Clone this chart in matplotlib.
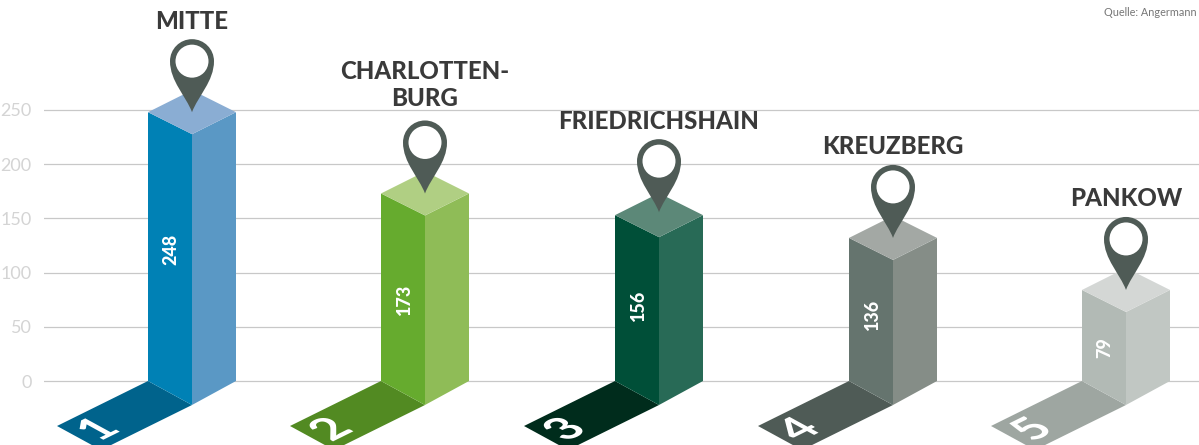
import matplotlib
matplotlib.use("Agg")
import matplotlib.pyplot as plt
from matplotlib.patches import Ellipse, PathPatch, Polygon
from matplotlib.path import Path
from matplotlib.patheffects import AbstractPathEffect
from matplotlib.transforms import Affine2D

districts = ["MITTE", "CHARLOTTEN-\nBURG", "FRIEDRICHSHAIN", "KREUZBERG", "PANKOW"]
values = [248, 173, 156, 136, 79]
# heights as actually drawn in the picture, they differ a little from the printed numbers
drawn_heights = [248, 173, 153, 132, 84]
ranks = ["1", "2", "3", "4", "5"]
y_ticks = [0, 50, 100, 150, 200, 250]

front_colors = ["#0081b5", "#66ab2e", "#004f38", "#65746e", "#b2bab5"]
side_colors = ["#5a98c5", "#8fbc57", "#286a56", "#858d87", "#c1c7c3"]
top_colors = ["#8aadd3", "#b0cf83", "#5c8878", "#a3a8a4", "#d4d7d5"]
shadow_colors = ["#00638c", "#528a22", "#002c1c", "#4f5b56", "#9ea6a1"]
PIN_COLOR = "#4f5b56"

W, H = 1199, 445
ZERO_Y = 381  # pixel row of value 0
PX = 271 / 250  # pixels per value unit
AX_LEFT = 44
BAR_LEFT = [148, 381, 615, 849, 1082]
BAR_W = 44
BASE_DEPTH = 24
TOP_DEPTH = 22
label_y = [249, 299, 305, 314, 348]  # pixel rows of the value labels
pin_lift = [0, 0, 3, 0, 0]  # pixels
title_lift = [-1, 3, 2, 0, 0]  # pixels


class Shear(AbstractPathEffect):
    """Draw the glyphs of a text along the isometric axes of the shadow."""

    def __init__(self, anchor, drop):
        super().__init__()
        self.anchor = anchor
        self.drop = drop

    def draw_path(self, renderer, gc, tpath, affine, rgbFace=None):
        ax_, ay = self.anchor
        m = Affine2D.from_values(0.896, 0.443, -0.878, 0.479, 0, 0)
        skew = Affine2D().translate(-ax_, -ay) + m + Affine2D().translate(ax_, ay - self.drop)
        renderer.draw_path(gc, tpath, affine + skew, rgbFace)


def to_val(px_row):
    return (ZERO_Y - px_row) / PX


def draw_pin(ax, x, tip):
    k = 0.5523 * 22
    cy = 51
    verts = [
        (0, 0),
        (-6, 16), (-22, 31), (-22, cy),
        (-22, cy + k), (-k, cy + 22), (0, cy + 22),
        (k, cy + 22), (22, cy + k), (22, cy),
        (22, 31), (6, 16), (0, 0),
    ]
    codes = [Path.MOVETO] + [Path.CURVE4] * 12
    pts = [(x + vx, tip + vy / PX) for vx, vy in verts]
    ax.add_patch(PathPatch(Path(pts, codes), fc=PIN_COLOR, ec="none", zorder=5))
    ax.add_patch(Ellipse((x, tip + cy / PX), 33, 33 / PX, fc="white", ec="none", zorder=6))


fig = plt.figure(figsize=(W / 100, H / 100), dpi=100)
ax = fig.add_axes([AX_LEFT / W, 0, (W - AX_LEFT) / W, 1])
ax.set_xlim(AX_LEFT, W)
ax.set_ylim(to_val(H), to_val(0))
ax.set_xticks([])
ax.set_yticks(y_ticks)
ax.tick_params(axis="y", length=0, pad=9, labelsize=13, labelcolor="#d4d4d4")
for lab in ax.get_yticklabels():
    lab.set_family("Lato")
ax.grid(True, axis="y", color="#c8c8c8", lw=0.9)
ax.set_axisbelow(True)
for s in ax.spines.values():
    s.set_visible(False)

base_d = BASE_DEPTH / PX
top_d = TOP_DEPTH / PX
for i, h in enumerate(drawn_heights):
    x0 = BAR_LEFT[i]
    xm = x0 + BAR_W
    x1 = xm + BAR_W
    ax.add_patch(Polygon([(x0, 0), (xm, -base_d), (xm - 91, -base_d - 45 / PX), (x0 - 91, -45 / PX)],
                         fc=shadow_colors[i], ec="none", zorder=2))
    ax.add_patch(Polygon([(x0, 0), (xm, -base_d), (xm, h - top_d), (x0, h)], fc=front_colors[i], ec="none", zorder=3))
    ax.add_patch(Polygon([(xm, -base_d), (x1, 0), (x1, h), (xm, h - top_d)], fc=side_colors[i], ec="none", zorder=3))
    ax.add_patch(Polygon([(x0, h), (xm, h - top_d), (x1, h), (xm, h + top_d)], fc=top_colors[i], ec="none", zorder=3))
    draw_pin(ax, xm, h + pin_lift[i] / PX)

    ax.text(xm, h + (80 + title_lift[i]) / PX, districts[i], ha="center", va="bottom", family="Lato",
            fontweight="black", fontsize=17.3, color="#3a3a3a", linespacing=1.25, zorder=7)
    ax.text(x0 + 23, to_val(label_y[i]), str(values[i]), rotation=90, ha="center", va="center",
            family="Lato", fontweight="black", fontsize=13, color="white", zorder=7)

    # rank number lies flat on the shadow
    rx, ry = x0 - 49, to_val(423)
    anchor = ax.transData.transform((rx, ry))
    t = ax.text(rx, ry, ranks[i], ha="center", va="center", family="Lato", fontweight="bold",
                fontsize=33, color="white", zorder=7)
    t.set_path_effects([Shear(anchor, 7)])

fig.text(1197 / W, 1 - 12 / H, "Quelle: Angermann", ha="right", va="center", family="Lato",
         fontsize=7.8, color="#777777")

fig.savefig("out.png", dpi=100)
